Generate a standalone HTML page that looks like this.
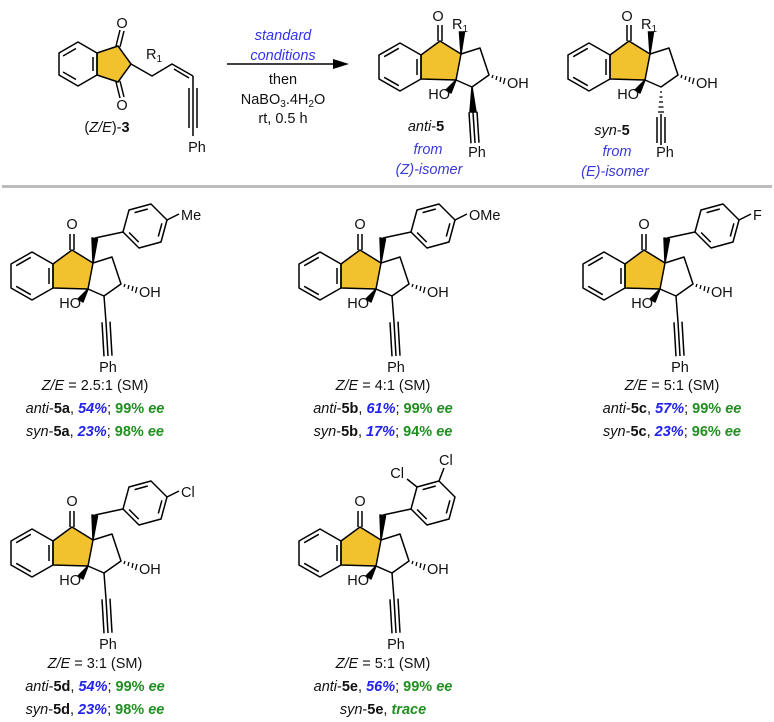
<!DOCTYPE html>
<html><head><meta charset="utf-8"><style>
html,body{margin:0;padding:0;background:#fff}
svg{display:block}
text{font-family:"Liberation Sans",sans-serif;font-size:14.5px;fill:#111}
.b{font-weight:bold}.i{font-style:italic}
.bl{fill:#2222ee;font-weight:bold;font-style:italic}
.gr{fill:#1f8f1f;font-weight:bold}
.cb{fill:#3a3ad8;font-style:italic}
</style></head><body>
<svg width="774" height="722" viewBox="0 0 774 722" xmlns="http://www.w3.org/2000/svg">
<defs>
<g id="core" stroke="#000" stroke-width="1.5" fill="none" stroke-linejoin="round">
  <polygon points="53,264 72,250 93,263 88,289 53,288" fill="#f2c22e"/>
  <polygon points="53,264 53,288 32,300 11,288 11,264 32,252"/>
  <line x1="16.2" y1="265.7" x2="30.8" y2="257.3"/>
  <line x1="16.2" y1="286.3" x2="30.8" y2="294.7"/>
  <line x1="49" y1="268" x2="49" y2="284"/>
  <line x1="70" y1="250" x2="70" y2="234"/>
  <line x1="74" y1="250" x2="74" y2="234"/>
  <path d="M93,263 L112,257 L121,284 L104,296 L88,289"/>
  <g stroke-width="1.3">
    <line x1="125" y1="284" x2="124" y2="287"/>
    <line x1="129" y1="285" x2="128" y2="289"/>
    <line x1="133" y1="286" x2="132" y2="291"/>
    <line x1="137" y1="287" x2="135.5" y2="293"/>
  </g>
  <polygon points="88,289 78,299 83,302" fill="#000"/>
</g>
<g id="benzyl" stroke="#000" stroke-width="1.5" fill="none" stroke-linejoin="round">
  <polygon points="93,263 92,238 97.5,239" fill="#000"/>
  <line x1="95" y1="238" x2="123" y2="232"/>
  <polygon points="167,220 161,242 139,248 123,232 129,210 151,204"/>
  <line x1="134.6" y1="212.6" x2="147.8" y2="209"/>
  <line x1="161.9" y1="223.3" x2="158.3" y2="236.5"/>
  <line x1="138.7" y1="242.1" x2="129.1" y2="232.5"/>
  <line x1="104" y1="296" x2="106" y2="322"/>
  <line x1="106" y1="322" x2="108" y2="356"/>
  <line x1="102" y1="322.3" x2="104" y2="356.3"/>
  <line x1="110" y1="321.7" x2="112" y2="355.7"/>
</g>
</defs>

<!-- starting material -->
<g stroke="#000" stroke-width="1.5" fill="none" stroke-linejoin="round">
  <polygon points="97,53 97,75 118,82 131,64 118,46" fill="#f2c22e"/>
  <polygon points="97,53 97,75 78,86 59,75 59,53 78,42"/>
  <line x1="63" y1="56" x2="76" y2="48.5"/>
  <line x1="63" y1="72" x2="76" y2="79.5"/>
  <line x1="93" y1="57" x2="93" y2="71"/>
  <line x1="116" y1="46" x2="120" y2="30"/><line x1="120" y1="47" x2="124" y2="31"/>
  <line x1="116" y1="82" x2="120" y2="98"/><line x1="120" y1="81" x2="124" y2="97"/>
  <path d="M131,64 L152,76 L172,64 L193,76"/>
  <line x1="174" y1="69" x2="189" y2="78"/>
  <line x1="193" y1="76" x2="193" y2="136"/>
  <line x1="189" y1="88" x2="189" y2="128"/>
  <line x1="197" y1="88" x2="197" y2="128"/>
</g>
<text x="122" y="28" text-anchor="middle">O</text>
<text x="122" y="110" text-anchor="middle">O</text>
<text x="146" y="59">R<tspan font-size="10" dy="3">1</tspan></text>
<text x="197" y="152" text-anchor="middle">Ph</text>
<text x="107" y="132" text-anchor="middle">(<tspan class="i">Z/E</tspan>)-<tspan class="b">3</tspan></text>

<!-- arrow -->
<line x1="227" y1="64" x2="336" y2="64" stroke="#000" stroke-width="1.5"/>
<polygon points="349,64 333,59 333,69" fill="#000"/>
<text x="283" y="40" text-anchor="middle" class="cb" style="fill:#3333ee">standard</text>
<text x="283" y="60" text-anchor="middle" class="cb" style="fill:#3333ee">conditions</text>
<text x="283" y="84" text-anchor="middle">then</text>
<text x="283" y="104" text-anchor="middle">NaBO<tspan font-size="10" dy="3">3</tspan><tspan dy="-3">.4H</tspan><tspan font-size="10" dy="3">2</tspan><tspan dy="-3">O</tspan></text>
<text x="283" y="123" text-anchor="middle">rt, 0.5 h</text>

<!-- anti-5 -->
<g transform="translate(368,-209)">
  <use href="#core"/>
  <g stroke="#000" stroke-width="1.5" fill="none">
    <polygon points="93,263 91.5,241 96.5,241" fill="#000"/>
    <polygon points="104,296 102,321 108,321" fill="#000"/>
    <line x1="105" y1="321" x2="107" y2="352"/>
    <line x1="101" y1="321.3" x2="103" y2="352.3"/>
    <line x1="109" y1="320.7" x2="111" y2="351.7"/>
  </g>
</g>
<text x="452" y="29">R<tspan font-size="10" dy="3">1</tspan></text>
<text x="438" y="21" text-anchor="middle">O</text>
<text x="507" y="88">OH</text>
<text x="450" y="99" text-anchor="end">HO</text>
<text x="477" y="157" text-anchor="middle">Ph</text>
<text x="426" y="131" text-anchor="middle"><tspan class="i">anti</tspan>-<tspan class="b">5</tspan></text>
<text x="428" y="154" text-anchor="middle" class="cb">from</text>
<text x="429" y="174" text-anchor="middle" class="cb">(Z)-isomer</text>

<!-- syn-5 -->
<g transform="translate(557,-209)">
  <use href="#core"/>
  <g stroke="#000" stroke-width="1.5" fill="none">
    <polygon points="93,263 91.5,241 96.5,241" fill="#000"/>
    <g stroke-width="1.3">
      <line x1="103" y1="301" x2="105" y2="301"/>
      <line x1="102.5" y1="306" x2="105.5" y2="306"/>
      <line x1="102" y1="311" x2="106" y2="311"/>
      <line x1="101.5" y1="316" x2="106.5" y2="316"/>
      <line x1="101" y1="321" x2="107" y2="321"/>
    </g>
    <line x1="104" y1="323" x2="104" y2="354"/>
    <line x1="100" y1="326" x2="100" y2="352"/>
    <line x1="108" y1="326" x2="108" y2="352"/>
  </g>
</g>
<text x="641" y="29">R<tspan font-size="10" dy="3">1</tspan></text>
<text x="627" y="21" text-anchor="middle">O</text>
<text x="696" y="88">OH</text>
<text x="639" y="99" text-anchor="end">HO</text>
<text x="665" y="157" text-anchor="middle">Ph</text>
<text x="612" y="135" text-anchor="middle"><tspan class="i">syn</tspan>-<tspan class="b">5</tspan></text>
<text x="617" y="156" text-anchor="middle" class="cb">from</text>
<text x="615" y="176" text-anchor="middle" class="cb">(E)-isomer</text>

<!-- divider -->
<rect x="2" y="185" width="770" height="3" fill="#bcbcbc"/>

<!-- product rows -->
<g transform="translate(0,0)"><use href="#core"/><use href="#benzyl"/><line x1="167" y1="220" x2="179" y2="214" stroke="#000" stroke-width="1.5"/></g>
<g transform="translate(288,0)"><use href="#core"/><use href="#benzyl"/><line x1="167" y1="220" x2="179" y2="214" stroke="#000" stroke-width="1.5"/></g>
<g transform="translate(572,0)"><use href="#core"/><use href="#benzyl"/><line x1="167" y1="220" x2="179" y2="214" stroke="#000" stroke-width="1.5"/></g>
<g transform="translate(0,277)"><use href="#core"/><use href="#benzyl"/><line x1="167" y1="220" x2="179" y2="214" stroke="#000" stroke-width="1.5"/></g>
<g transform="translate(288,277)"><use href="#core"/><use href="#benzyl"/>
  <line x1="129" y1="210" x2="119" y2="202" stroke="#000" stroke-width="1.5"/>
  <line x1="151" y1="204" x2="156" y2="191" stroke="#000" stroke-width="1.5"/></g>

<!-- labels 5a -->
<text x="72" y="229" text-anchor="middle">O</text><text x="139" y="297">OH</text><text x="81" y="308" text-anchor="end">HO</text><text x="108" y="372" text-anchor="middle">Ph</text><text x="181" y="220">Me</text>
<text x="95" y="390" text-anchor="middle"><tspan class="i">Z/E</tspan> = 2.5:1 (SM)</text>
<text x="95" y="413" text-anchor="middle"><tspan class="i">anti</tspan>-<tspan class="b">5a</tspan>, <tspan class="bl">54%</tspan>; <tspan class="gr">99% <tspan class="i">ee</tspan></tspan></text>
<text x="95" y="436" text-anchor="middle"><tspan class="i">syn</tspan>-<tspan class="b">5a</tspan>, <tspan class="bl">23%</tspan>; <tspan class="gr">98% <tspan class="i">ee</tspan></tspan></text>

<!-- 5b -->
<text x="360" y="229" text-anchor="middle">O</text><text x="427" y="297">OH</text><text x="369" y="308" text-anchor="end">HO</text><text x="396" y="372" text-anchor="middle">Ph</text><text x="469" y="220">OMe</text>
<text x="383" y="390" text-anchor="middle"><tspan class="i">Z/E</tspan> = 4:1 (SM)</text>
<text x="383" y="413" text-anchor="middle"><tspan class="i">anti</tspan>-<tspan class="b">5b</tspan>, <tspan class="bl">61%</tspan>; <tspan class="gr">99% <tspan class="i">ee</tspan></tspan></text>
<text x="383" y="436" text-anchor="middle"><tspan class="i">syn</tspan>-<tspan class="b">5b</tspan>, <tspan class="bl">17%</tspan>; <tspan class="gr">94% <tspan class="i">ee</tspan></tspan></text>

<!-- 5c -->
<text x="644" y="229" text-anchor="middle">O</text><text x="711" y="297">OH</text><text x="653" y="308" text-anchor="end">HO</text><text x="680" y="372" text-anchor="middle">Ph</text><text x="753" y="220">F</text>
<text x="672" y="390" text-anchor="middle"><tspan class="i">Z/E</tspan> = 5:1 (SM)</text>
<text x="672" y="413" text-anchor="middle"><tspan class="i">anti</tspan>-<tspan class="b">5c</tspan>, <tspan class="bl">57%</tspan>; <tspan class="gr">99% <tspan class="i">ee</tspan></tspan></text>
<text x="672" y="436" text-anchor="middle"><tspan class="i">syn</tspan>-<tspan class="b">5c</tspan>, <tspan class="bl">23%</tspan>; <tspan class="gr">96% <tspan class="i">ee</tspan></tspan></text>

<!-- 5d -->
<text x="72" y="506" text-anchor="middle">O</text><text x="139" y="574">OH</text><text x="81" y="585" text-anchor="end">HO</text><text x="108" y="649" text-anchor="middle">Ph</text><text x="181" y="497">Cl</text>
<text x="95" y="668" text-anchor="middle"><tspan class="i">Z/E</tspan> = 3:1 (SM)</text>
<text x="95" y="691" text-anchor="middle"><tspan class="i">anti</tspan>-<tspan class="b">5d</tspan>, <tspan class="bl">54%</tspan>; <tspan class="gr">99% <tspan class="i">ee</tspan></tspan></text>
<text x="95" y="714" text-anchor="middle"><tspan class="i">syn</tspan>-<tspan class="b">5d</tspan>, <tspan class="bl">23%</tspan>; <tspan class="gr">98% <tspan class="i">ee</tspan></tspan></text>

<!-- 5e -->
<text x="360" y="506" text-anchor="middle">O</text><text x="427" y="574">OH</text><text x="369" y="585" text-anchor="end">HO</text><text x="396" y="649" text-anchor="middle">Ph</text>
<text x="404" y="478" text-anchor="end">Cl</text><text x="439" y="465">Cl</text>
<text x="383" y="668" text-anchor="middle"><tspan class="i">Z/E</tspan> = 5:1 (SM)</text>
<text x="383" y="691" text-anchor="middle"><tspan class="i">anti</tspan>-<tspan class="b">5e</tspan>, <tspan class="bl">56%</tspan>; <tspan class="gr">99% <tspan class="i">ee</tspan></tspan></text>
<text x="383" y="714" text-anchor="middle"><tspan class="i">syn</tspan>-<tspan class="b">5e</tspan>, <tspan class="gr"><tspan class="i">trace</tspan></tspan></text>
</svg>
</body></html>
